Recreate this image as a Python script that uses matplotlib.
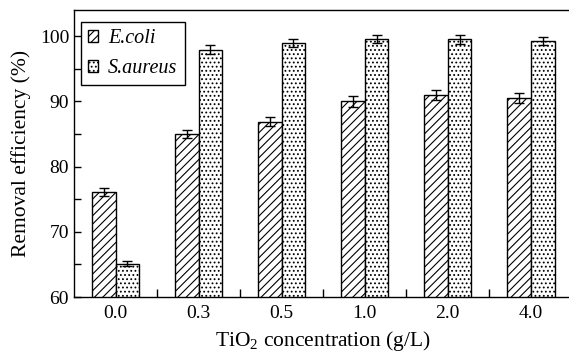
import numpy as np
import matplotlib
matplotlib.use("Agg")
import matplotlib.pyplot as plt
from matplotlib.ticker import MultipleLocator, FixedLocator

# data
concentrations = ["0.0", "0.3", "0.5", "1.0", "2.0", "4.0"]
ecoli = [76.1, 85.0, 86.9, 90.0, 91.0, 90.5]
ecoli_err = [0.6, 0.6, 0.7, 0.8, 0.8, 0.8]
saureus = [65.1, 97.9, 99.0, 99.5, 99.5, 99.2]
saureus_err = [0.4, 0.7, 0.6, 0.6, 0.7, 0.6]

plt.rcParams['font.family'] = ['Liberation Serif', 'DejaVu Serif']
plt.rcParams['mathtext.fontset'] = 'custom'
plt.rcParams['mathtext.rm'] = 'Liberation Serif'
plt.rcParams['mathtext.it'] = 'Liberation Serif:italic'
plt.rcParams['hatch.linewidth'] = 0.8

fig = plt.figure(figsize=(5.69, 3.53), dpi=100)
ax = fig.add_axes([0.130, 0.1586, 0.876, 0.813])

x = np.arange(len(concentrations))
w = 0.285

err_kw = dict(ecolor='black', elinewidth=1.0, capsize=3.5, capthick=1.0)
ax.bar(x - w / 2, ecoli, w, yerr=ecoli_err, color='white',
       edgecolor='black', linewidth=1.0, hatch='////', label='E.coli',
       error_kw=err_kw)
ax.bar(x + w / 2, saureus, w, yerr=saureus_err, color='white',
       edgecolor='black', linewidth=1.0, hatch='....', label='S.aureus',
       error_kw=err_kw)

ax.set_ylim(60, 104)
ax.set_xlim(-0.5, 5.5)

ax.yaxis.set_major_locator(MultipleLocator(10))
ax.yaxis.set_minor_locator(MultipleLocator(5))
ax.tick_params(axis='y', which='both', direction='in', length=5, width=1,
               labelsize=14, right=False)

# labels at group centres, small ticks between groups
ax.set_xticks(x)
ax.set_xticklabels(concentrations)
ax.xaxis.set_minor_locator(FixedLocator(x[:-1] + 0.5))
ax.tick_params(axis='x', which='major', length=0, labelsize=14, pad=6)
ax.tick_params(axis='x', which='minor', direction='in', length=6, width=1, top=False)

for s in ax.spines.values():
    s.set_linewidth(1.0)
ax.spines['right'].set_visible(False)

ax.set_ylabel("Removal efficiency (%)", fontsize=15.5, labelpad=6)
ax.set_xlabel("TiO$_2$ concentration (g/L)", fontsize=15.5, labelpad=5)

leg = ax.legend(loc='upper left', bbox_to_anchor=(0.014, 0.958),
                prop={'style': 'italic', 'size': 14.5},
                handlelength=0.5, handleheight=0.5, handletextpad=0.5,
                borderpad=0.35, labelspacing=0.55, fancybox=False,
                edgecolor='black', borderaxespad=0, framealpha=1)
leg.get_frame().set_linewidth(1.0)

fig.savefig("out.png", dpi=100)
